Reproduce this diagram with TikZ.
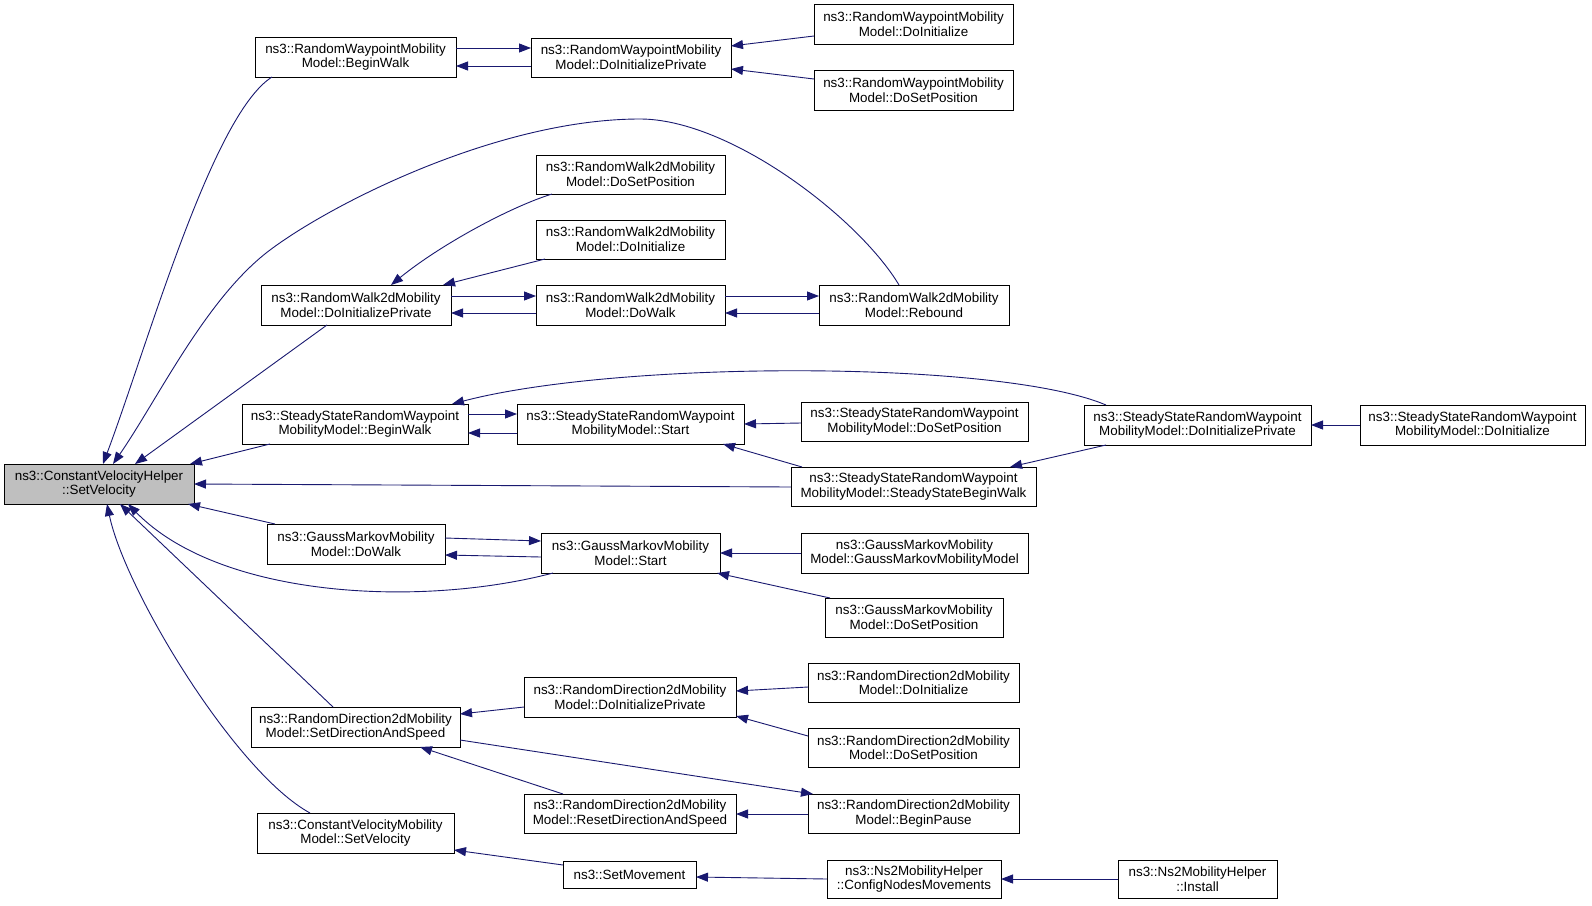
\documentclass[tikz,border=0pt]{standalone}
\usepackage{fontspec}
\setmainfont{Liberation Sans}
\usetikzlibrary{arrows.meta}
\definecolor{edgec}{HTML}{191970}
\definecolor{hlgray}{HTML}{BFBFBF}
\newcommand\gbox[7][]{\node[box,#1, minimum width={#4-#2}, minimum height={#5-#3}] (#6) at ({(#2+#4)/2},{(#3+#5)/2}) {#7};}
\begin{document}
\begin{tikzpicture}[x=1pt,y=-1pt,
 box/.style={draw=black, line width=1pt, fill=white, inner sep=0pt, outer sep=0pt, align=center, font=\fontsize{13.4}{14.6}\selectfont},
 e/.style={draw=edgec, line width=0.9pt, -{Triangle[length=12pt,width=9pt]}}]
\fill[white] (0,0) rectangle (1592,905);
\useasboundingbox (0,0) rectangle (1592,905);
% nodes: [opts]{x1}{y1}{x2}{y2}{name}{text}
\gbox[fill=hlgray]{4}{464}{194}{504}{cvh}{ns3::ConstantVelocityHelper\\::SetVelocity}
\gbox{255}{37}{456}{77}{rwpBW}{ns3::RandomWaypointMobility\\Model::BeginWalk}
\gbox{531}{38}{731}{77}{rwpDIP}{ns3::RandomWaypointMobility\\Model::DoInitializePrivate}
\gbox{814}{4}{1013}{44}{rwpDI}{ns3::RandomWaypointMobility\\Model::DoInitialize}
\gbox{814}{70}{1013}{110}{rwpDSP}{ns3::RandomWaypointMobility\\Model::DoSetPosition}
\gbox{536}{155}{725}{194}{rwdDSP}{ns3::RandomWalk2dMobility\\Model::DoSetPosition}
\gbox{536}{220}{725}{259}{rwdDI}{ns3::RandomWalk2dMobility\\Model::DoInitialize}
\gbox{261}{285}{451}{325}{rwdDIP}{ns3::RandomWalk2dMobility\\Model::DoInitializePrivate}
\gbox{536}{285}{725}{325}{rwdDW}{ns3::RandomWalk2dMobility\\Model::DoWalk}
\gbox{819}{285}{1009}{325}{rebound}{ns3::RandomWalk2dMobility\\Model::Rebound}
\gbox{242}{404}{468}{444}{ssBW}{ns3::SteadyStateRandomWaypoint\\MobilityModel::BeginWalk}
\gbox{517}{404}{744}{444}{ssStart}{ns3::SteadyStateRandomWaypoint\\MobilityModel::Start}
\gbox{801}{402}{1028}{441}{ssDSP}{ns3::SteadyStateRandomWaypoint\\MobilityModel::DoSetPosition}
\gbox{1084}{405}{1311}{445}{ssDIP}{ns3::SteadyStateRandomWaypoint\\MobilityModel::DoInitializePrivate}
\gbox{1360}{405}{1585}{445}{ssDI}{ns3::SteadyStateRandomWaypoint\\MobilityModel::DoInitialize}
\gbox{791}{467}{1036}{506}{ssSSBW}{ns3::SteadyStateRandomWaypoint\\MobilityModel::SteadyStateBeginWalk}
\gbox{267}{524}{445}{564}{gmDW}{ns3::GaussMarkovMobility\\Model::DoWalk}
\gbox{541}{533}{720}{573}{gmStart}{ns3::GaussMarkovMobility\\Model::Start}
\gbox{801}{533}{1028}{573}{gmGMMM}{ns3::GaussMarkovMobility\\Model::GaussMarkovMobilityModel}
\gbox{825}{598}{1003}{637}{gmDSP}{ns3::GaussMarkovMobility\\Model::DoSetPosition}
\gbox{251}{707}{460}{747}{rdSDAS}{ns3::RandomDirection2dMobility\\Model::SetDirectionAndSpeed}
\gbox{524}{677}{736}{717}{rdDIP}{ns3::RandomDirection2dMobility\\Model::DoInitializePrivate}
\gbox{808}{663}{1019}{702}{rdDI}{ns3::RandomDirection2dMobility\\Model::DoInitialize}
\gbox{808}{728}{1019}{767}{rdDSP}{ns3::RandomDirection2dMobility\\Model::DoSetPosition}
\gbox{524}{794}{736}{833}{rdRDAS}{ns3::RandomDirection2dMobility\\Model::ResetDirectionAndSpeed}
\gbox{808}{794}{1019}{833}{rdBP}{ns3::RandomDirection2dMobility\\Model::BeginPause}
\gbox{257}{813}{454}{853}{cvmSV}{ns3::ConstantVelocityMobility\\Model::SetVelocity}
\gbox{563}{861}{696}{888}{setMov}{ns3::SetMovement}
\gbox{827}{860}{1001}{898}{nsCNM}{ns3::Ns2MobilityHelper\\::ConfigNodesMovements}
\gbox{1118}{860}{1277}{898}{nsInst}{ns3::Ns2MobilityHelper\\::Install}
% edges into cvh
\draw[e] (rwpBW.south -| 272,0) .. controls (212,115) and (148,344) .. (cvh.north -| 103,0);
\draw[e] (rebound.north -| 899,0) .. controls (859,218) and (730,119) .. (640,119) .. controls (500,119) and (334,202) .. (270,250) .. controls (206,298) and (158,399) .. (cvh.north -| 113,0);
\draw[e] (rwdDIP.south -| 327,0) -- (cvh.north -| 135,0);
\draw[e] (ssBW.south -| 270,0) -- (cvh.north -| 190,0);
\draw[e] (ssSSBW.west |- 0,487) -- (cvh.east |- 0,484);
\draw[e] (gmDW.north -| 275,0) -- (cvh.south -| 188,0);
\draw[e] (gmStart.south -| 553,0) .. controls (420,608) and (220,598) .. (cvh.south -| 128,0);
\draw[e] (rdSDAS.north -| 333,0) -- (cvh.south -| 120,0);
\draw[e] (cvmSV.north -| 310,0) .. controls (235,772) and (125,590) .. (cvh.south -| 107,0);
% random waypoint
\draw[e] (rwpBW.east |- 0,48) -- (rwpDIP.west |- 0,48);
\draw[e] (rwpDIP.west |- 0,66) -- (rwpBW.east |- 0,66);
\draw[e] (rwpDI.west |- 0,36) -- (rwpDIP.east |- 0,46);
\draw[e] (rwpDSP.west |- 0,79) -- (rwpDIP.east |- 0,69);
% random walk
\draw[e] (rwdDSP.south -| 552,0) .. controls (510,207) and (440,245) .. (rwdDIP.north -| 391,0);
\draw[e] (rwdDI.south -| 545,0) -- (rwdDIP.north -| 443,0);
\draw[e] (rwdDIP.east |- 0,296) -- (rwdDW.west |- 0,296);
\draw[e] (rwdDW.west |- 0,313) -- (rwdDIP.east |- 0,313);
\draw[e] (rwdDW.east |- 0,296) -- (rebound.west |- 0,296);
\draw[e] (rebound.west |- 0,313) -- (rwdDW.east |- 0,313);
% steady state
\draw[e] (ssDIP.north -| 1106,0) .. controls (1000,360) and (620,360) .. (ssBW.north -| 452,0);
\draw[e] (ssBW.east |- 0,414) -- (ssStart.west |- 0,414);
\draw[e] (ssStart.west |- 0,433) -- (ssBW.east |- 0,433);
\draw[e] (ssDSP.west |- 0,423) -- (ssStart.east |- 0,424);
\draw[e] (ssSSBW.north -| 802,0) -- (ssStart.south -| 723,0);
\draw[e] (ssDIP.south -| 1106,0) -- (ssSSBW.north -| 1010,0);
\draw[e] (ssDI.west |- 0,425) -- (ssDIP.east |- 0,425);
% gauss markov
\draw[e] (gmDW.east |- 0,538) -- (gmStart.west |- 0,541);
\draw[e] (gmStart.west |- 0,557) -- (gmDW.east |- 0,555);
\draw[e] (gmGMMM.west |- 0,553) -- (gmStart.east |- 0,553);
\draw[e] (gmDSP.north -| 830,0) -- (gmStart.south -| 717,0);
% random direction
\draw[e] (rdDIP.west |- 0,707) -- (rdSDAS.east |- 0,714);
\draw[e] (rdDI.west |- 0,687) -- (rdDIP.east |- 0,691);
\draw[e] (rdDSP.west |- 0,736) -- (rdDIP.east |- 0,716);
\draw[e] (rdSDAS.east |- 0,740) -- (rdBP.north -| 813,0);
\draw[e] (rdRDAS.north -| 563,0) -- (rdSDAS.south -| 420,0);
\draw[e] (rdBP.west |- 0,814) -- (rdRDAS.east |- 0,814);
% movement
\draw[e] (setMov.west |- 0,865) -- (cvmSV.east |- 0,850);
\draw[e] (nsCNM.west |- 0,879) -- (setMov.east |- 0,877);
\draw[e] (nsInst.west |- 0,879) -- (nsCNM.east |- 0,879);
\end{tikzpicture}
\end{document}
